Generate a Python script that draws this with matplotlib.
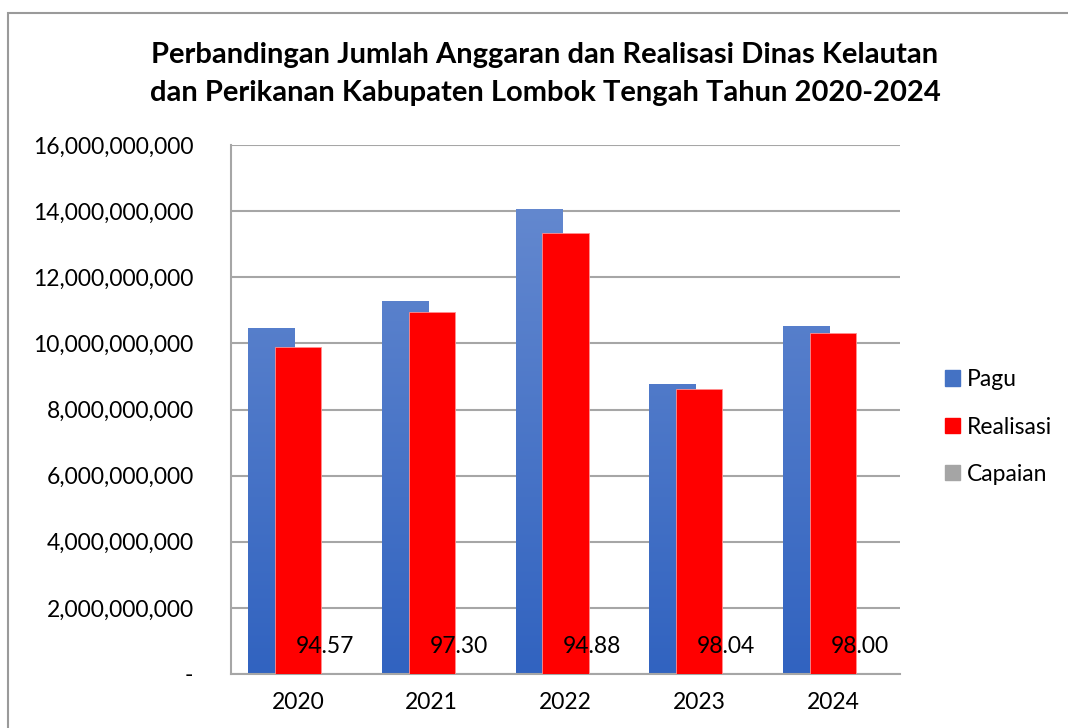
import numpy as np
import matplotlib.pyplot as plt
from matplotlib.patches import Rectangle
from matplotlib.colors import LinearSegmentedColormap
from matplotlib.ticker import FuncFormatter

plt.rcParams['font.family'] = ['Lato', 'DejaVu Sans']

years = ['2020', '2021', '2022', '2023', '2024']
pagu = [10.45e9, 11.27e9, 14.07e9, 8.78e9, 10.53e9]
realisasi = [9.88e9, 10.96e9, 13.35e9, 8.61e9, 10.32e9]
capaian = [94.57, 97.30, 94.88, 98.04, 98.00]

title = ('Perbandingan Jumlah Anggaran dan Realisasi Dinas Kelautan\n'
         'dan Perikanan Kabupaten Lombok Tengah Tahun 2020-2024')

W, H = 1068, 728
fig = plt.figure(figsize=(W / 100, H / 100), dpi=100)
ax = fig.add_axes([231 / W, 1 - 674 / H, (900 - 231) / W, (674 - 145) / H])

x = np.arange(len(years))
width = 0.345
step = 0.2
fs = 16.5

# pagu bars with vertical gradient
grad = np.linspace(0, 1, 256).reshape(-1, 1)
cmap_blue = LinearSegmentedColormap.from_list('b', ['#3163C0', '#6A8DD1'])
bars_p = ax.bar(x - step, pagu, width, color='#4A78C8', zorder=2)
for b in bars_p:
    x0, w = b.get_x(), b.get_width()
    im = ax.imshow(grad, cmap=cmap_blue, origin='lower', aspect='auto',
                   extent=[x0, x0 + w, 0, 16e9], zorder=2.1)
    im.set_clip_path(b)
ax.bar(x, realisasi, width, color='#FF0000', edgecolor='#FF9090', linewidth=0.6, zorder=3)
ax.bar(x + step, capaian, width, color='#A5A5A5', zorder=3)

for xi, c in zip(x, capaian):
    ax.text(xi + step, 0.82e9, f'{c:.2f}', ha='center', va='center', fontsize=fs, zorder=4)

ax.set_xlim(-0.5, len(years) - 0.5)
ax.set_ylim(0, 16e9)
ax.set_yticks(np.arange(0, 16.1e9, 2e9))
ax.yaxis.set_major_formatter(FuncFormatter(lambda v, p: '-' if v == 0 else f'{v:,.0f}'))
ax.set_xticks(x)
ax.set_xticklabels(years)
ax.tick_params(axis='both', length=0, labelsize=fs)
ax.tick_params(axis='y', pad=27)
ax.tick_params(axis='x', pad=13)
ax.grid(axis='y', color='#A6A6A6', linewidth=1.5, zorder=0)
ax.set_axisbelow(True)
for s in ['top', 'right']:
    ax.spines[s].set_visible(False)
for s in ['left', 'bottom']:
    ax.spines[s].set_color('#A6A6A6')
    ax.spines[s].set_linewidth(1.5)

fig.text(545 / W, 1 - 74 / H, title, ha='center', va='center', fontsize=21,
         fontweight='bold', linespacing=1.6)

handles = [Rectangle((0, 0), 1, 1, color=c) for c in ['#4472C4', '#FF0000', '#A5A5A5']]
fig.legend(handles, ['Pagu', 'Realisasi', 'Capaian'], loc='center left',
           bbox_to_anchor=(924 / W, 1 - 427 / H), frameon=False, fontsize=fs,
           handlelength=0.65, handleheight=0.65, handletextpad=0.3, labelspacing=1.15)

# outer chart border
fig.add_artist(Rectangle((8 / W, -0.05), 1.1, 1 - 12.5 / H + 0.05, transform=fig.transFigure,
                         fill=False, edgecolor='#9A9A9A', linewidth=1.5))

fig.savefig('out.png', dpi=100)
